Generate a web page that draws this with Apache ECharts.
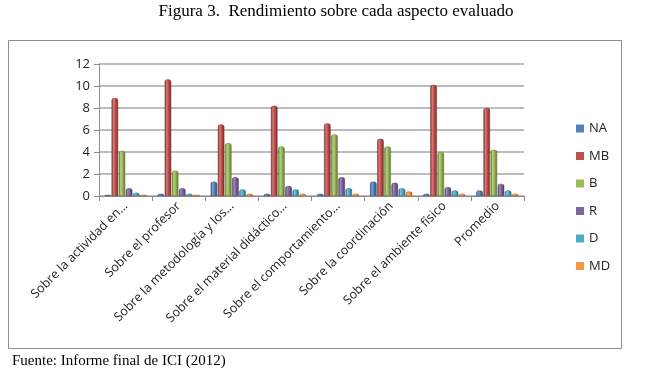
<!DOCTYPE html>
<html>
<head>
<meta charset="utf-8">
<script src="https://cdn.jsdelivr.net/npm/echarts@6/dist/echarts.min.js"></script>
<style>html,body{margin:0;padding:0;background:#fff;}#c{width:672px;height:386px;}</style>
</head>
<body>
<div id="c"></div>
<script>
var categories = ["Sobre la actividad en…","Sobre el profesor","Sobre la metodología y los…","Sobre el material didáctico…","Sobre el comportamiento…","Sobre la coordinación","Sobre el ambiente físico","Promedio"];
var seriesNames = ["NA","MB","B","R","D","MD"];
var NA = [0.1,0.2,1.3,0.2,0.2,1.3,0.2,0.5];
var MB = [8.9,10.6,6.5,8.2,6.6,5.2,10.1,8.0];
var B  = [4.1,2.3,4.8,4.5,5.6,4.5,4.0,4.2];
var R  = [0.7,0.7,1.7,0.9,1.7,1.2,0.8,1.1];
var D  = [0.3,0.2,0.6,0.6,0.7,0.7,0.5,0.5];
var MD = [0.1,0.1,0.2,0.2,0.2,0.4,0.2,0.2];
var yTicks = [0,2,4,6,8,10,12];
var colors = ["#4F81BD","#C0504D","#9BBB59","#8064A2","#4BACC6","#F79646"];
var dark = ["#2C4D75","#772C2A","#5F7530","#4D3B62","#276A7C","#B65708"];
var light = ["#7FA1D0","#D57B78","#B6D07F","#A08AC0","#7CC6DB","#F9B47A"];
var values = [NA,MB,B,R,D,MD];

var chart = echarts.init(document.getElementById('c'));
var series = seriesNames.map(function(n,i){
  return {
    name: n, type: 'bar', data: values[i], barWidth: 6.5, barGap: '10%',
    itemStyle: {
      color: new echarts.graphic.LinearGradient(0,0,1,0,[
        {offset:0,color:dark[i]},{offset:0.3,color:light[i]},{offset:0.55,color:colors[i]},{offset:1,color:dark[i]}
      ]),
      borderColor: dark[i], borderWidth: 0.5,
      borderRadius: [2,2,0,0]
    }
  };
});
chart.setOption({
  animation: false,
  color: colors,
  graphic: [
    {type:'rect', shape:{x:8.5,y:40.5,width:613,height:308}, style:{fill:'none',stroke:'#8c8c8c',lineWidth:1}},
    {type:'text', left:'center', top:3, style:{text:'Figura 3.  Rendimiento sobre cada aspecto evaluado', font:'17px "Liberation Serif"', fill:'#000'}},
    {type:'text', left:12, top:354, style:{text:'Fuente: Informe final de ICI (2012)', font:'15px "Liberation Serif"', fill:'#000'}}
  ],
  legend: {
    orient:'vertical', left:571, top:117, itemWidth:8, itemHeight:8, itemGap:14.5,
    icon:'rect', textStyle:{fontFamily:'Open Sans', fontSize:13, color:'#222'},
    data: seriesNames.map(function(n,i){return {name:n, itemStyle:{color:colors[i], borderWidth:0}};})
  },
  grid: {left:99, right:148, top:64, bottom:190},
  xAxis: {
    type:'category', data: categories,
    axisLine:{show:true, lineStyle:{color:'#8c8c8c'}},
    axisTick:{show:true, alignWithLabel:false, length:5, lineStyle:{color:'#8c8c8c'}},
    axisLabel:{rotate:45, interval:0, fontFamily:'Open Sans', fontSize:12.5, color:'#222', margin:8}
  },
  yAxis: {
    type:'value', min:0, max:12, interval:2,
    axisLine:{show:true, lineStyle:{color:'#8c8c8c'}},
    axisTick:{show:true, length:5, lineStyle:{color:'#8c8c8c'}},
    splitLine:{lineStyle:{color:'#a6a6a6', width:1.5}},
    axisLabel:{fontFamily:'Open Sans', fontSize:13, color:'#222', margin:9,
      formatter:function(v){return yTicks.indexOf(v)>=0 ? String(v) : '';}}
  },
  series: series
});
</script>
</body>
</html>
